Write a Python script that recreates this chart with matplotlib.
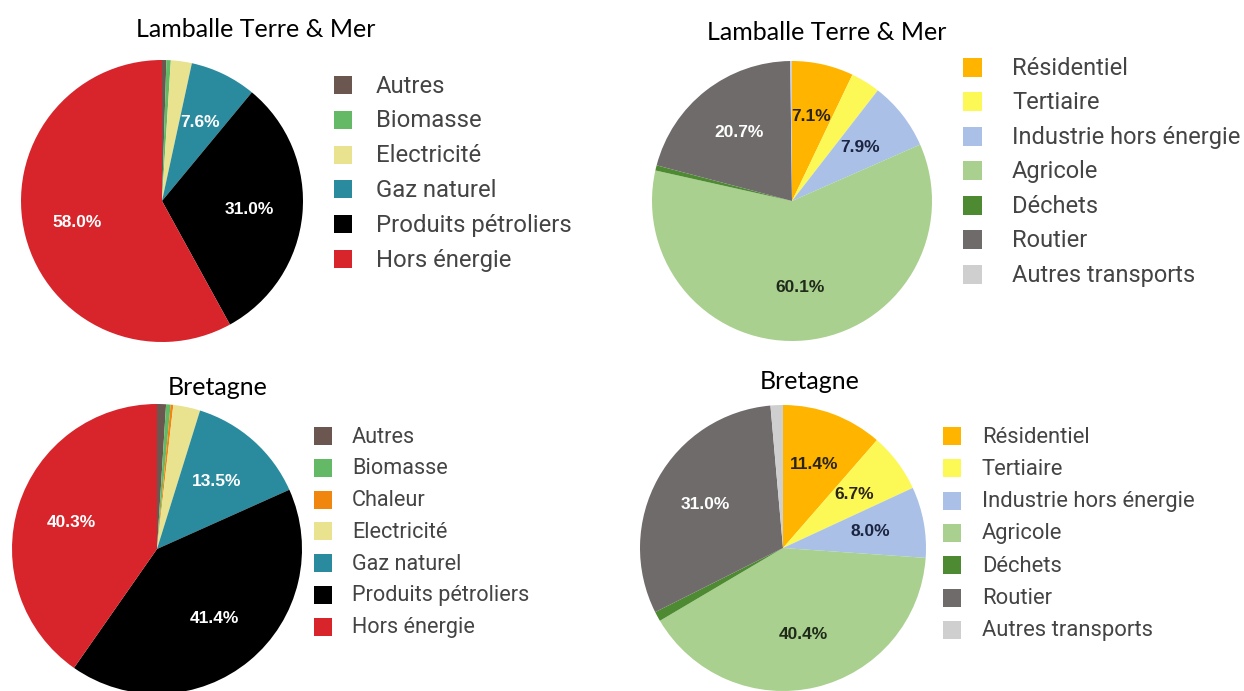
import matplotlib
matplotlib.use('Agg')
import matplotlib.pyplot as plt
from matplotlib.patches import Rectangle

# Consommation d'énergie par source (gauche) et émissions par secteur (droite)
sources_ltm = ['Autres', 'Biomasse', 'Electricité', 'Gaz naturel',
               'Produits pétroliers', 'Hors énergie']
values_sources_ltm = [0.5, 0.5, 2.4, 7.6, 31.0, 58.0]

sources_bzh = ['Autres', 'Biomasse', 'Chaleur', 'Electricité', 'Gaz naturel',
               'Produits pétroliers', 'Hors énergie']
values_sources_bzh = [1.0, 0.5, 0.3, 3.0, 13.5, 41.4, 40.3]

secteurs = ['Résidentiel', 'Tertiaire', 'Industrie hors énergie', 'Agricole',
            'Déchets', 'Routier', 'Autres transports']
values_secteurs_ltm = [7.1, 3.4, 7.9, 60.1, 0.6, 20.7, 0.2]
values_secteurs_bzh = [11.4, 6.7, 8.0, 40.4, 1.1, 31.0, 1.4]

# couleur de remplissage / couleur du texte
source_colors = {
    'Autres': ('#6b5650', 'white'),
    'Biomasse': ('#63b965', 'white'),
    'Chaleur': ('#f0860e', 'white'),
    'Electricité': ('#e9e28e', 'white'),
    'Gaz naturel': ('#2a8b9f', 'white'),
    'Produits pétroliers': ('#000000', 'white'),
    'Hors énergie': ('#d7252b', 'white'),
}
secteur_colors = {
    'Résidentiel': ('#ffb400', '#2a2418'),
    'Tertiaire': ('#fcf855', '#2a2418'),
    'Industrie hors énergie': ('#aac0e6', '#1b2440'),
    'Agricole': ('#a9d08e', '#1f2a1a'),
    'Déchets': ('#4e8a32', 'white'),
    'Routier': ('#706b6b', 'white'),
    'Autres transports': ('#cfcfcf', '#333333'),
}

W, H = 1244, 691
fig = plt.figure(figsize=(W / 100, H / 100), dpi=100)
fig.patch.set_facecolor('white')

# calque en pixels pour titres et légendes
overlay = fig.add_axes([0, 0, 1, 1])
overlay.set_xlim(0, W)
overlay.set_ylim(H, 0)
overlay.axis('off')
overlay.patch.set_alpha(0)


def draw_pie(labels, values, palette, cx, cy, r):
    ax = fig.add_axes([(cx - r) / W, 1 - (cy + r) / H, 2 * r / W, 2 * r / H])
    colors = [palette[l][0] for l in labels]
    wedges, _, autotexts = ax.pie(
        values, colors=colors, startangle=90, counterclock=False,
        autopct=lambda p: f'{p:.1f}%' if p >= 5 else '',
        pctdistance=0.62, wedgeprops=dict(linewidth=0),
        textprops=dict(family='Liberation Sans', fontweight='bold', fontsize=12.5))
    for t, l in zip(autotexts, labels):
        t.set_color(palette[l][1])
    ax.set_xlim(-1, 1)
    ax.set_ylim(-1, 1)
    ax.axis('off')


def draw_legend(labels, palette, x, tx, y0, step, box, fontsize):
    for i, l in enumerate(labels):
        y = y0 + i * step
        overlay.add_patch(Rectangle((x, y - box / 2 - 1), box, box,
                                    color=palette[l][0], linewidth=0))
        overlay.text(tx, y, l, fontsize=fontsize,
                     family='Roboto', color='#444444', va='center', ha='left')


draw_pie(sources_ltm, values_sources_ltm, source_colors, 162, 201, 141)
draw_pie(secteurs, values_secteurs_ltm, secteur_colors, 792, 201, 140)
draw_pie(sources_bzh, values_sources_bzh, source_colors, 157, 549, 145)
draw_pie(secteurs, values_secteurs_bzh, secteur_colors, 783, 548, 143)

draw_legend(sources_ltm, source_colors, 334, 376, 86, 34.8, 18, 17.2)
draw_legend(secteurs, secteur_colors, 963, 1012, 68, 34.5, 19, 17)
draw_legend(sources_bzh, source_colors, 314, 352, 437, 31.8, 18, 15.6)
draw_legend(secteurs, secteur_colors, 943, 982, 437, 32.3, 18, 15.8)

title_kw = dict(family='Lato', fontsize=18, color='black', ha='center', va='center')
overlay.text(256, 29, 'Lamballe Terre & Mer', **title_kw)
overlay.text(827, 32, 'Lamballe Terre & Mer', **title_kw)
overlay.text(218, 387, 'Bretagne', **title_kw)
overlay.text(810, 381, 'Bretagne', **title_kw)

fig.savefig('out.png', dpi=100)
